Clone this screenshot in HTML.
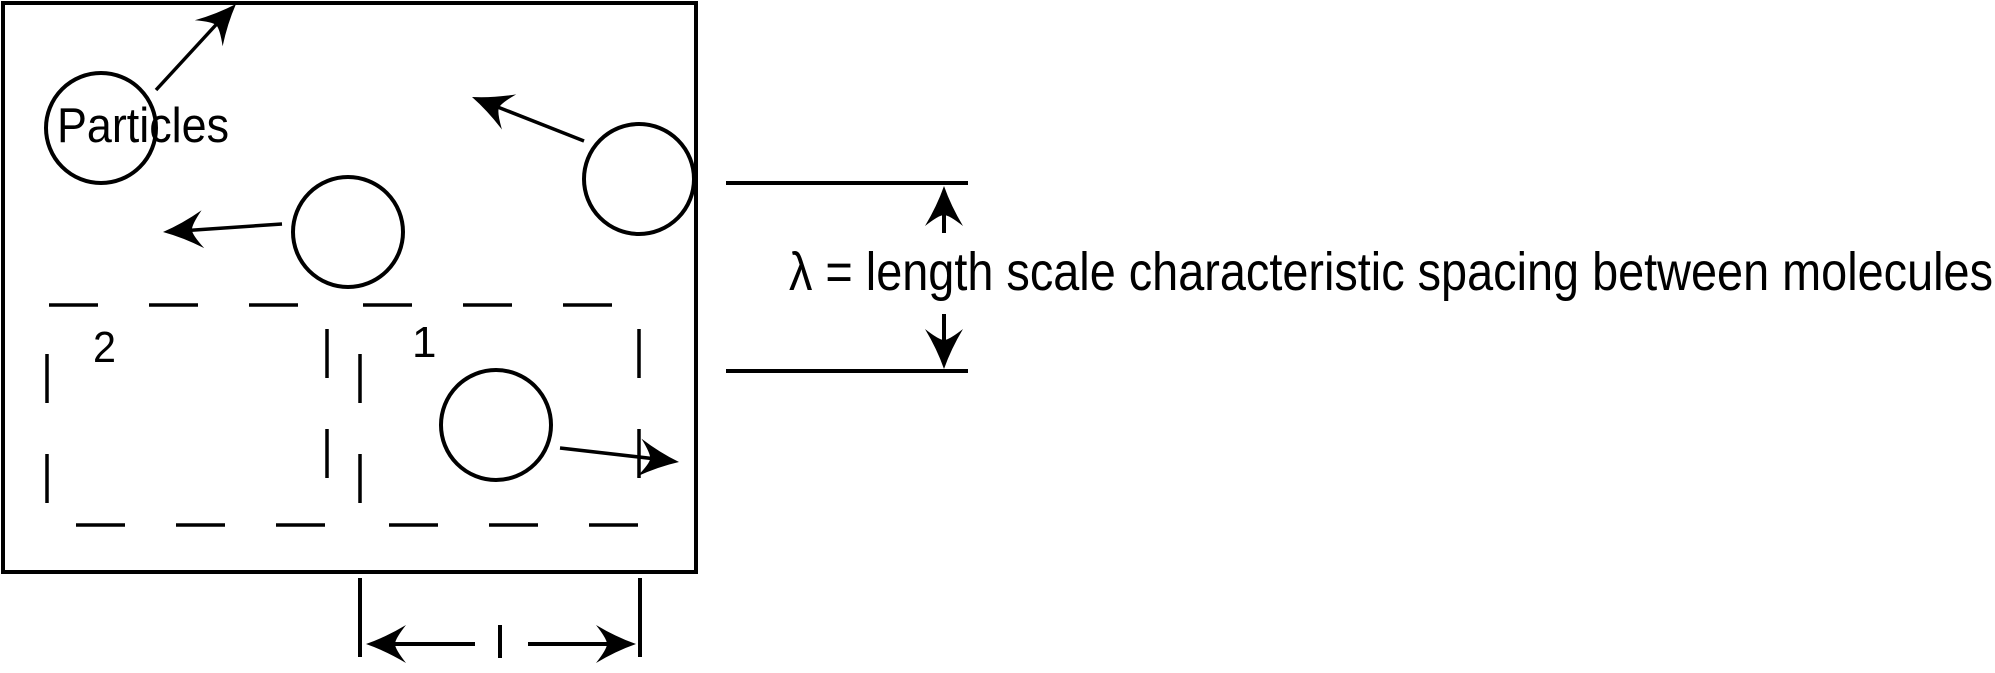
<!DOCTYPE html>
<html><head><meta charset="utf-8"><style>
html,body{margin:0;padding:0;background:#fff;width:1995px;height:673px;overflow:hidden}
svg{display:block}
text{font-family:"Liberation Sans",sans-serif;fill:#000}
</style></head><body>
<svg width="1995" height="673" viewBox="0 0 1995 673">
<defs>
<path id="ah" d="M0 0 Q-20 -7 -40 -19 Q-29 -5 -29 0 Q-29 5 -40 19 Q-20 7 0 0Z" fill="#000"/>
</defs>
<rect x="3" y="3" width="693" height="569" fill="none" stroke="#000" stroke-width="4"/>
<g fill="none" stroke="#000" stroke-width="4">
<circle cx="101" cy="128" r="55"/>
<circle cx="348" cy="232" r="55"/>
<circle cx="639" cy="179" r="55"/>
<circle cx="496" cy="425" r="55"/>
</g>
<g stroke="#000" stroke-width="3.5">
<line x1="156" y1="90" x2="225" y2="15"/>
<line x1="584" y1="141" x2="485" y2="102"/>
<line x1="282" y1="224" x2="180" y2="231"/>
<line x1="560" y1="448" x2="665" y2="460"/>
</g>
<use href="#ah" transform="translate(236,4) rotate(-47)"/>
<use href="#ah" transform="translate(472,97) rotate(-158)"/>
<use href="#ah" transform="translate(163,232) rotate(176)"/>
<use href="#ah" transform="translate(679,462) rotate(6.5)"/>
<g stroke="#000" stroke-width="3.5" stroke-dasharray="49 51">
<line x1="49" y1="305" x2="300" y2="305"/>
<line x1="76" y1="525" x2="327" y2="525"/>
<line x1="47" y1="354" x2="47" y2="504"/>
<line x1="327" y1="329" x2="327" y2="479"/>
</g>
<g stroke="#000" stroke-width="3.5" stroke-dasharray="49 51">
<line x1="363" y1="305" x2="613" y2="305"/>
<line x1="389" y1="525" x2="640" y2="525"/>
<line x1="360" y1="354" x2="360" y2="504"/>
<line x1="639" y1="329" x2="639" y2="479"/>
</g>
<text x="93" y="362" font-size="44" textLength="23" lengthAdjust="spacingAndGlyphs">2</text>
<text x="412" y="357" font-size="44">1</text>
<text x="57" y="142" font-size="49" textLength="172" lengthAdjust="spacingAndGlyphs">Particles</text>
<g stroke="#000" stroke-width="4">
<line x1="360" y1="578" x2="360" y2="657"/>
<line x1="640" y1="578" x2="640" y2="657"/>
<line x1="500" y1="625" x2="500" y2="658"/>
<line x1="385" y1="644" x2="475" y2="644"/>
<line x1="528" y1="644" x2="620" y2="644"/>
</g>
<use href="#ah" transform="translate(366,644) rotate(180)"/>
<use href="#ah" transform="translate(636,644)"/>
<g stroke="#000" stroke-width="4">
<line x1="726" y1="183" x2="968" y2="183"/>
<line x1="726" y1="371" x2="968" y2="371"/>
<line x1="944" y1="205" x2="944" y2="233"/>
<line x1="944" y1="314" x2="944" y2="350"/>
</g>
<use href="#ah" transform="translate(944,186) rotate(-90)"/>
<use href="#ah" transform="translate(944,369) rotate(90)"/>
<text x="789" y="290" font-size="54" textLength="1204" lengthAdjust="spacingAndGlyphs">λ = length scale characteristic spacing between molecules</text>
</svg>
</body></html>
